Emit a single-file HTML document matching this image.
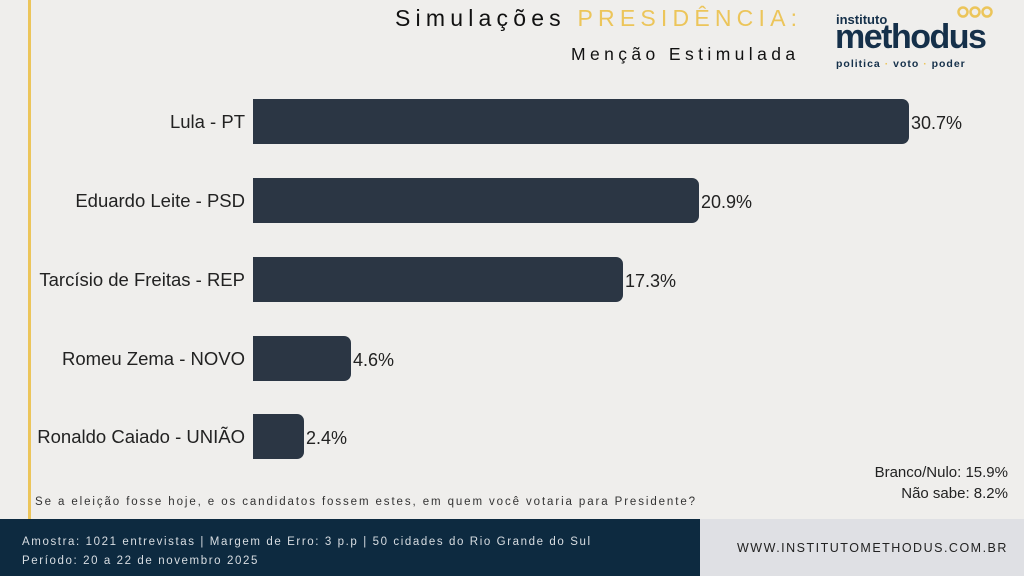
<!DOCTYPE html>
<html><head><meta charset="utf-8"><style>
*{margin:0;padding:0;box-sizing:border-box}
body{width:1024px;height:576px;background:#efeeec;position:relative;overflow:hidden;font-family:"Liberation Sans",sans-serif;color:#222}
.abs{position:absolute;white-space:nowrap}
.bar{position:absolute;left:253px;height:45px;background:#2b3644;border-radius:0 7px 7px 0}
.lab{position:absolute;right:779px;font-size:18.5px;color:#222;line-height:45px}
.val{position:absolute;font-size:18px;color:#222;line-height:45px}
</style></head><body>
<div class="abs" style="left:28px;top:0;width:3px;height:519px;background:#ecc55a"></div>
<div class="abs" style="left:395px;top:5px;font-size:23px;letter-spacing:5.2px;color:#111">Simulações <span style="color:#ecc55a">PRESIDÊNCIA:</span></div>
<div class="abs" style="left:571px;top:44px;font-size:17.5px;letter-spacing:4.4px;color:#111">Menção Estimulada</div>
<!-- logo -->
<div class="abs" style="left:955px;top:5px;width:40px;height:14px">
<svg width="40" height="14"><g fill="none" stroke="#ecc55a" stroke-width="2.5"><circle cx="8" cy="7" r="4.5"/><circle cx="20" cy="7" r="4.5"/><circle cx="32" cy="7" r="4.5"/></g></svg></div>
<div class="abs" style="left:836px;top:12px;font-size:13px;font-weight:bold;color:#15304a">instituto</div>
<div class="abs" style="left:835px;top:19px;font-size:34px;font-weight:bold;color:#15304a;letter-spacing:-1.5px;line-height:36px">methodus</div>
<div class="abs" style="left:836px;top:58px;font-size:10.5px;font-weight:bold;color:#15304a;letter-spacing:1px">politica <span style="color:#ecc55a">·</span> voto <span style="color:#ecc55a">·</span> poder</div>
<!-- bars -->
<div class="bar" style="top:99px;width:656px"></div>
<div class="lab" style="top:99px">Lula - PT</div><div class="val" style="top:101px;left:911px">30.7%</div>
<div class="bar" style="top:178px;width:446px"></div>
<div class="lab" style="top:178px">Eduardo Leite - PSD</div><div class="val" style="top:180px;left:701px">20.9%</div>
<div class="bar" style="top:257px;width:370px"></div>
<div class="lab" style="top:257px">Tarcísio de Freitas - REP</div><div class="val" style="top:259px;left:625px">17.3%</div>
<div class="bar" style="top:336px;width:98px"></div>
<div class="lab" style="top:336px">Romeu Zema - NOVO</div><div class="val" style="top:338px;left:353px">4.6%</div>
<div class="bar" style="top:414px;width:51px"></div>
<div class="lab" style="top:414px">Ronaldo Caiado - UNIÃO</div><div class="val" style="top:416px;left:306px">2.4%</div>
<div class="abs" style="right:16px;top:462px;font-size:15px;text-align:right;line-height:21px;color:#222">Branco/Nulo: 15.9%<br>Não sabe: 8.2%</div>
<div class="abs" style="left:35px;top:496px;font-size:11.5px;letter-spacing:1.9px;color:#333">Se a eleição fosse hoje, e os candidatos fossem estes, em quem você votaria para Presidente?</div>
<!-- footer -->
<div class="abs" style="left:0;top:519px;width:700px;height:57px;background:#0d2a40"></div>
<div class="abs" style="left:700px;top:519px;width:324px;height:57px;background:#dfe0e4"></div>
<div class="abs" style="left:22px;top:533px;font-size:11.5px;letter-spacing:1.6px;color:#d8dde2;line-height:19px">Amostra: 1021 entrevistas | Margem de Erro: 3 p.p | 50 cidades do Rio Grande do Sul<br>Período: 20 a 22 de novembro 2025</div>
<div class="abs" style="left:737px;top:541px;font-size:12.5px;letter-spacing:1.5px;color:#222">WWW.INSTITUTOMETHODUS.COM.BR</div>
</body></html>
